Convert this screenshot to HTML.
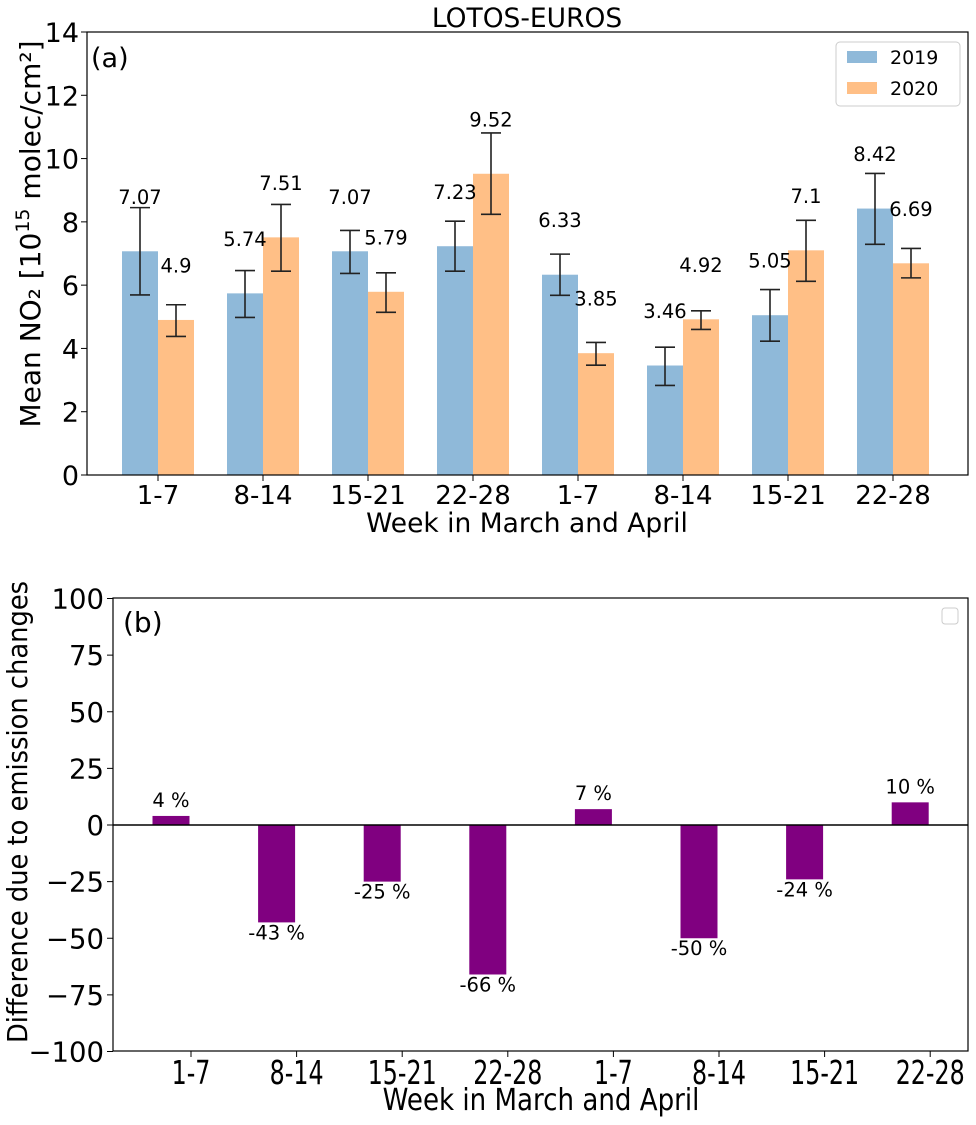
<!DOCTYPE html>
<html><head><meta charset="utf-8"><style>
body{margin:0;background:#fff}
svg text{font-family:"DejaVu Sans","Liberation Sans",sans-serif;fill:#000}
</style></head><body>
<svg id="c" width="976" height="1120" xmlns="http://www.w3.org/2000/svg"></svg>
<script>
const categories=["1-7","8-14","15-21","22-28","1-7","8-14","15-21","22-28"];
const v2019=[7.07,5.74,7.07,7.23,6.33,3.46,5.05,8.42];
const v2020=[4.9,7.51,5.79,9.52,3.85,4.92,7.1,6.69];
const err2019Lo=[5.69,4.98,6.37,6.44,5.68,2.83,4.23,7.29];
const err2019Hi=[8.45,6.46,7.73,8.02,6.98,4.04,5.86,9.53];
const err2020Lo=[4.38,6.44,5.14,8.24,3.47,4.60,6.12,6.23];
const err2020Hi=[5.38,8.55,6.39,10.81,4.19,5.19,8.05,7.16];
const diffPct=[4,-43,-25,-66,7,-50,-24,10];
const topTicks=[0,2,4,6,8,10,12,14];
const botTicks=[-100,-75,-50,-25,0,25,50,75,100];

const svg=document.getElementById('c');const NS='http://www.w3.org/2000/svg';
function mk(t,a,txt){const e=document.createElementNS(NS,t);for(const k in a)e.setAttribute(k,a[k]);if(txt!==undefined)e.textContent=txt;svg.appendChild(e);return e;}
const yT=v=>475-v*(443/14); const xT=i=>158+105*i;
const yB=v=>825-v*2.265; const xB=i=>171+105.6*i;
let e;
e=mk('text',{x:527,y:27,'font-size':26.5,'text-anchor':'middle'},'LOTOS-EUROS');

categories.forEach((c,i)=>{
 e=mk('rect',{x:xT(i)-36,y:yT(v2019[i]),width:36,height:yT(0)-yT(v2019[i]),fill:'#8fb9d9'});
 
 e=mk('rect',{x:xT(i),y:yT(v2020[i]),width:36,height:yT(0)-yT(v2020[i]),fill:'#ffbf86'});
 
 [[xT(i)-18,err2019Lo[i],err2019Hi[i],v2019[i]],[xT(i)+18,err2020Lo[i],err2020Hi[i],v2020[i]]].forEach(([x,lo,hi,v])=>{
  e=mk('path',{d:`M${x},${yT(lo)}V${yT(hi)}M${x-10},${yT(lo)}h20M${x-10},${yT(hi)}h20`,stroke:'#222','stroke-width':1.6,fill:'none'});
  
  e=mk('text',{x:x,y:yT(v+1.5),'font-size':19.5,'text-anchor':'middle'},String(v));
  
 });
 e=mk('line',{x1:xT(i),x2:xT(i),y1:475,y2:481,stroke:'#000'});
 
 e=mk('text',{x:xT(i),y:504,'font-size':26,'text-anchor':'middle'},c);
 
});
topTicks.forEach(t=>{
 e=mk('line',{x1:81,x2:87,y1:yT(t),y2:yT(t),stroke:'#000'});
 
 e=mk('text',{x:79,y:yT(t)+10,'font-size':27,'text-anchor':'end'},String(t));
 
});
e=mk('rect',{x:87,y:32,width:881,height:443,fill:'none',stroke:'#000','stroke-width':1.2});

e=mk('text',{x:91,y:67,'font-size':27},'(a)');

e=mk('text',{x:527,y:532,'font-size':26.5,'text-anchor':'middle'},'Week in March and April');

e=mk('text',{x:0,y:0,'font-size':28,'text-anchor':'middle',transform:'translate(40,234) rotate(-90)'});
e.innerHTML='Mean NO₂ [10<tspan dy="-11" font-size="19">15</tspan><tspan dy="11"> molec/cm²]</tspan>';

e=mk('rect',{x:836,y:42,width:124,height:64,rx:4,fill:'#fff',stroke:'#ccc'});

e=mk('rect',{x:847,y:51,width:30,height:12,fill:'#8fb9d9'});

e=mk('text',{x:890,y:64,'font-size':19},'2019');

e=mk('rect',{x:847,y:82,width:30,height:12,fill:'#ffbf86'});

e=mk('text',{x:890,y:95,'font-size':19},'2020');


diffPct.forEach((v,i)=>{
 const y0=Math.min(yB(0),yB(v));
 e=mk('rect',{x:xB(i)-18.5,y:y0,width:37,height:Math.abs(yB(v)-yB(0)),fill:'#800080'});
 
 e=mk('text',{x:xB(i),y:v>=0?yB(v+4):yB(v-7.5),'font-size':19.5,'text-anchor':'middle'},v+' %');
 
 const tx=xB(i)+20;
 e=mk('line',{x1:tx,x2:tx,y1:1051,y2:1057,stroke:'#000'});
 
 e=mk('text',{x:0,y:0,'font-size':33,'text-anchor':'middle',transform:`translate(${tx},1084) scale(0.72,1)`},categories[i]);
 
});
e=mk('line',{x1:113,x2:968,y1:yB(0),y2:yB(0),stroke:'#000','stroke-width':1.5});

botTicks.forEach(t=>{
 e=mk('line',{x1:107,x2:113,y1:yB(t),y2:yB(t),stroke:'#000'});
 
 e=mk('text',{x:104,y:yB(t)+10,'font-size':27.5,'text-anchor':'end'},String(t).replace('-','−'));
 
});
e=mk('rect',{x:113,y:598,width:855,height:453,fill:'none',stroke:'#000','stroke-width':1.2});

e=mk('text',{x:123,y:632,'font-size':28},'(b)');

e=mk('rect',{x:942,y:608,width:16,height:16,rx:3,fill:'#fff',stroke:'#ccc'});

e=mk('text',{x:0,y:0,'font-size':30,'text-anchor':'middle',transform:'translate(541,1110) scale(0.87,1)'},'Week in March and April');

e=mk('text',{x:0,y:0,'font-size':28,'text-anchor':'middle',transform:'translate(27,812) rotate(-90) scale(0.92,1)'},'Difference due to emission changes');

</script>
</body></html>
